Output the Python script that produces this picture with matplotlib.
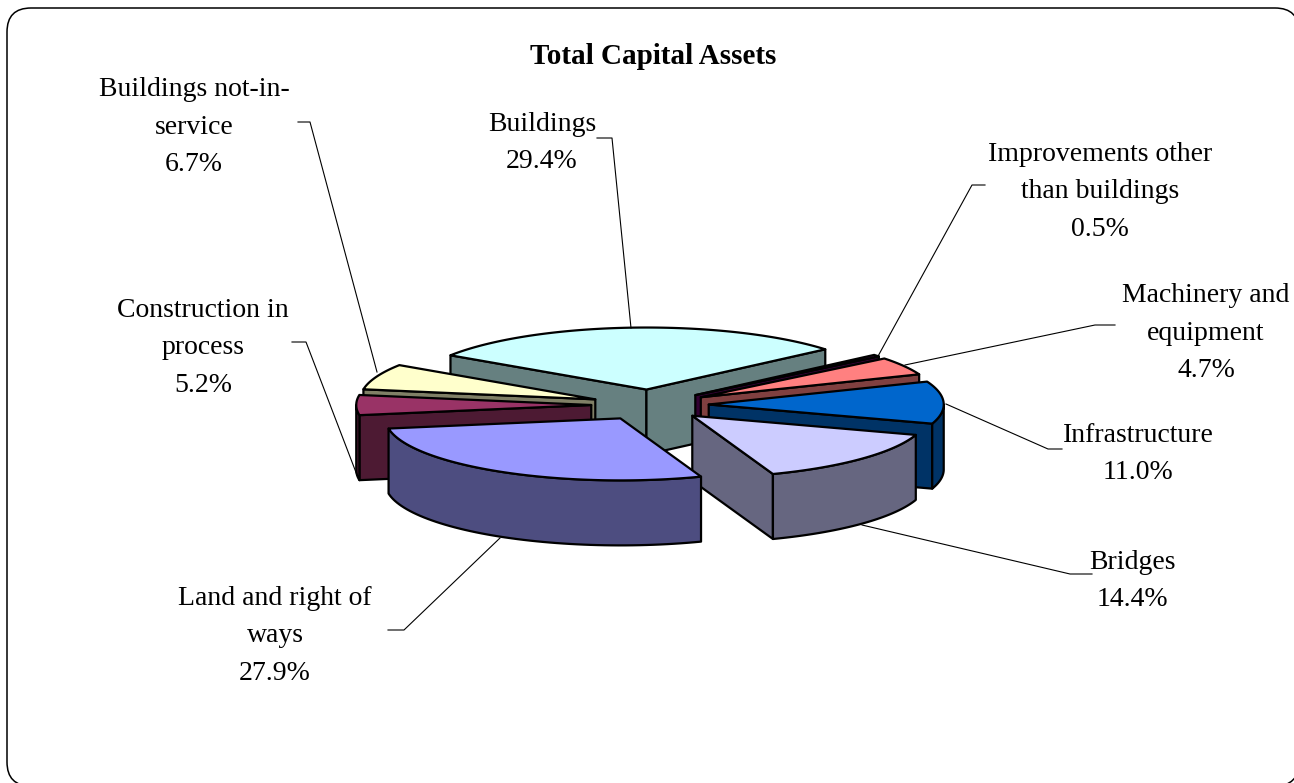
import numpy as np
import matplotlib
matplotlib.use("Agg")
import matplotlib.pyplot as plt
from matplotlib.patches import FancyBboxPatch, Polygon

categories = ["Buildings", "Improvements other\nthan buildings", "Machinery and\nequipment",
              "Infrastructure", "Bridges", "Land and right of\nways", "Construction in\nprocess",
              "Buildings not-in-\nservice"]
values = [29.4, 0.5, 4.7, 11.0, 14.4, 27.9, 5.2, 6.7]

# colours
top_colors = ["#CCFFFF", "#660066", "#FF8080", "#0066CC", "#CCCCFF", "#9999FF", "#993366", "#FFFFCC"]
side_colors = ["#668080", "#330033", "#804040", "#003366", "#666680", "#4D4D80", "#4D1A33", "#808066"]

# layout of the pie, in pixels
cx, cy = 650, 405
rx, ry = 235, 62
depth = 65
explode = 0.25
start_angle = -56.5
draw_order = [0, 1, 2, 3, 4, 7, 6, 5]

# label centres and their leader lines
label_pos = [(542, 143), (1100, 192), (1206, 333), (1138, 454), (1132, 581), (275, 636), (203, 348), (194, 127)]
leaders = [
    [(597, 138), (612, 138), (631, 328)],
    [(985, 185), (972, 185), (877, 358)],
    [(1115, 325), (1095, 325), (905, 365)],
    [(1062, 449), (1048, 449), (946, 404)],
    [(1092, 574), (1070, 574), (862, 525)],
    [(388, 630), (404, 630), (500, 538)],
    [(292, 342), (306, 342), (357, 475)],
    [(298, 122), (310, 122), (377, 372)],
]


def ell(ang, x0, y0):
    t = np.radians(ang)
    return x0 + rx * np.sin(t), y0 - ry * np.cos(t)


def draw_slice(ax, a, b, top, side):
    mid = (a + b) / 2
    x0 = cx + explode * rx * np.sin(np.radians(mid))
    y0 = cy - explode * ry * np.cos(np.radians(mid))
    style = dict(edgecolor="black", linewidth=1.6, joinstyle="round")

    # side walls that face the viewer
    for ang, show in [(a, np.sin(np.radians(a)) < 0), (b, np.sin(np.radians(b)) > 0)]:
        if show:
            xe, ye = ell(ang, x0, y0)
            wall = [(x0, y0), (xe, ye), (xe, ye + depth), (x0, y0 + depth)]
            ax.add_patch(Polygon(wall, closed=True, facecolor=side, **style))

    # outer rim, only the front half of the ellipse
    lo, hi = max(a, 90), min(b, 270)
    if hi > lo:
        t = np.linspace(lo, hi, 60)
        xs, ys = ell(t, x0, y0)
        rim = list(zip(xs, ys)) + list(zip(xs[::-1], ys[::-1] + depth))
        ax.add_patch(Polygon(rim, closed=True, facecolor=side, **style))

    t = np.linspace(a, b, 80)
    xs, ys = ell(t, x0, y0)
    ax.add_patch(Polygon([(x0, y0)] + list(zip(xs, ys)), closed=True, facecolor=top, **style))


if __name__ == "__main__":
    plt.rcParams["font.family"] = ["Liberation Serif", "DejaVu Serif"]

    fig = plt.figure(figsize=(12.94, 7.83), dpi=100)
    ax = fig.add_axes([0, 0, 1, 1])
    ax.set_xlim(0, 1294)
    ax.set_ylim(783, 0)
    ax.axis("off")

    # rounded chart border runs off the right and bottom edge
    ax.add_patch(FancyBboxPatch((31, 32), 1244, 730, boxstyle="round,pad=24,rounding_size=24",
                                facecolor="white", edgecolor="black", linewidth=1.1, clip_on=True))

    angles = start_angle + np.cumsum([0] + [v / sum(values) * 360 for v in values])
    for i in draw_order:
        draw_slice(ax, angles[i], angles[i + 1], top_colors[i], side_colors[i])

    for pts in leaders:
        ax.plot([p[0] for p in pts], [p[1] for p in pts], color="black", lw=0.8)

    for name, val, pos in zip(categories, values, label_pos):
        ax.text(pos[0], pos[1], f"{name}\n{val:.1f}%", ha="center", va="center",
                fontsize=20, linespacing=1.68, color="black")

    ax.text(653, 56, "Total Capital Assets", ha="center", va="center", fontsize=21, fontweight="bold")

    fig.savefig("out.png", dpi=100)
